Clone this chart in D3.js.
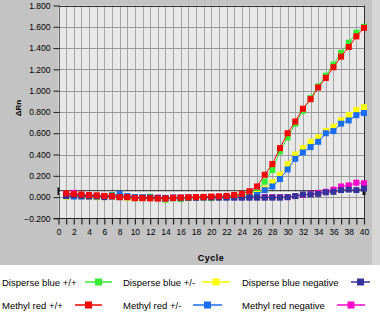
<!DOCTYPE html>
<html>
<head>
<meta charset="utf-8">
<script src="https://cdnjs.cloudflare.com/ajax/libs/d3/7.8.5/d3.min.js"></script>
<style>
body { margin: 0; background: #ffffff; }
svg  { display: block; font-family: "Liberation Sans", Arial, sans-serif; }
</style>
</head>
<body>
<svg id="chart" width="380" height="315"></svg>
<script>
// 循环数 1..40
var v_Cycles = d3.range(1, 41);

var v_DisperseBluePP  = [0.010, 0.020, 0.010, 0.010, 0.000, 0.005, 0.020, 0.005, 0.000, -0.010,
                         -0.005, 0.005, -0.010, -0.025, -0.010, -0.020, -0.010, -0.005, -0.005, -0.010,
                         0.000, 0.000, 0.010, 0.015, 0.030, 0.060, 0.145, 0.255, 0.430, 0.560,
                         0.690, 0.810, 0.930, 1.040, 1.140, 1.245, 1.355, 1.450, 1.545, 1.600];
var v_DisperseBluePM  = [0.005, 0.010, 0.005, 0.005, 0.000, 0.000, 0.005, 0.000, -0.005, -0.010,
                         -0.010, -0.005, -0.010, -0.020, -0.010, -0.010, -0.010, -0.005, -0.005, -0.005,
                         0.000, 0.000, 0.000, 0.005, 0.010, 0.030, 0.080, 0.140, 0.210, 0.310,
                         0.400, 0.460, 0.520, 0.560, 0.620, 0.660, 0.720, 0.770, 0.820, 0.845];
var v_DisperseBlueNeg = [0.010, 0.015, 0.010, 0.005, 0.005, 0.000, 0.005, 0.000, 0.000, -0.005,
                         -0.005, -0.005, -0.010, -0.010, -0.005, -0.005, -0.005, -0.005, -0.005, -0.005,
                         -0.005, -0.005, -0.005, -0.005, -0.005, -0.005, -0.005, -0.005, -0.005, 0.000,
                         0.010, 0.025, 0.025, 0.030, 0.045, 0.050, 0.065, 0.070, 0.065, 0.080];
var v_MethylRedPP     = [0.035, 0.030, 0.025, 0.020, 0.017, 0.012, 0.010, 0.000, 0.000, -0.010,
                         -0.010, -0.012, -0.013, -0.013, -0.008, -0.005, -0.002, 0.000, 0.003, 0.006,
                         0.008, 0.012, 0.020, 0.030, 0.055, 0.100, 0.210, 0.310, 0.460, 0.600,
                         0.710, 0.830, 0.920, 1.030, 1.120, 1.220, 1.320, 1.410, 1.510, 1.590];
var v_MethylRedPM     = [0.010, 0.005, 0.005, 0.015, 0.010, 0.010, 0.015, 0.030, 0.010, 0.000,
                         -0.005, -0.005, -0.010, -0.015, -0.010, -0.010, -0.005, -0.005, 0.000, 0.000,
                         0.000, 0.000, 0.000, 0.000, 0.000, 0.020, 0.065, 0.100, 0.170, 0.260,
                         0.360, 0.420, 0.470, 0.520, 0.600, 0.620, 0.690, 0.720, 0.770, 0.790];
var v_MethylRedNeg    = [0.020, 0.040, 0.020, 0.010, 0.005, 0.005, 0.005, 0.000, 0.000, -0.005,
                         -0.005, -0.005, -0.005, -0.010, -0.005, -0.005, -0.005, 0.000, 0.000, 0.000,
                         0.000, 0.000, 0.000, 0.000, 0.000, 0.000, 0.000, 0.000, 0.000, 0.000,
                         0.010, 0.020, 0.030, 0.040, 0.050, 0.070, 0.100, 0.110, 0.135, 0.130];

var v_XTicks = d3.range(0, 41, 1);
var v_XLabels = d3.range(0, 41, 2);
var v_YTicks = d3.range(-0.2, 1.81, 0.2).map(function (d) { return Math.round(d * 10) / 10; });

// 图例顺序 (两行三列)
var v_Legend = [
    { name: "Disperse blue +/+",     color: "#33ee33", data: v_DisperseBluePP  },
    { name: "Disperse blue +/-",     color: "#ffff00", data: v_DisperseBluePM  },
    { name: "Disperse blue negative", color: "#333399", data: v_DisperseBlueNeg },
    { name: "Methyl red +/+",        color: "#ff0000", data: v_MethylRedPP     },
    { name: "Methyl red +/-",        color: "#1a6cf0", data: v_MethylRedPM     },
    { name: "Methyl red negative",   color: "#ff00cc", data: v_MethylRedNeg    }
];

// 绘制顺序: 红色在最上面
var v_DrawOrder = [5, 0, 1, 4, 2, 3];


function drawChart()
{
    let v_SVG = d3.select("#chart");
    let v_X   = d3.scaleLinear().domain([0, 40]).range([58.5, 364]);
    let v_Y   = d3.scaleLinear().domain([-0.2, 1.8]).range([218.4, 5.5]);

    // 背景
    v_SVG.append("rect").attr("x", 0).attr("y", 0).attr("width", 380).attr("height", 265).attr("fill", "#c3c3c3");
    v_SVG.append("rect").attr("x", 372).attr("y", 0).attr("width", 8).attr("height", 265).attr("fill", "#d6d6d6");

    // 绘图区
    v_SVG.append("rect")
        .attr("x", v_X(0)).attr("y", v_Y(1.8))
        .attr("width", v_X(40) - v_X(0)).attr("height", v_Y(-0.2) - v_Y(1.8))
        .attr("fill", "#e8e8e8");

    let v_Grid = v_SVG.append("g");
    v_Grid.selectAll("line.vx").data(v_XTicks).enter().append("line")
        .attr("x1", d => Math.round(v_X(d)) + 0.5).attr("x2", d => Math.round(v_X(d)) + 0.5)
        .attr("y1", v_Y(1.8)).attr("y2", v_Y(-0.2))
        .attr("stroke", "#a4a4a4").attr("stroke-width", 1);
    v_Grid.selectAll("line.hy").data(v_YTicks).enter().append("line")
        .attr("x1", v_X(0)).attr("x2", v_X(40))
        .attr("y1", d => Math.round(v_Y(d)) + 0.5).attr("y2", d => Math.round(v_Y(d)) + 0.5)
        .attr("stroke", "#999999").attr("stroke-width", 1);

    // 边框
    v_SVG.append("line").attr("x1", v_X(0)).attr("x2", v_X(40) + 0.5).attr("y1", Math.round(v_Y(1.8)) + 0.5).attr("y2", Math.round(v_Y(1.8)) + 0.5).attr("stroke", "#333333");
    v_SVG.append("line").attr("x1", Math.round(v_X(40)) + 0.5).attr("x2", Math.round(v_X(40)) + 0.5).attr("y1", v_Y(1.8)).attr("y2", v_Y(-0.2)).attr("stroke", "#333333");
    v_SVG.append("line").attr("x1", Math.round(v_X(0)) + 0.5).attr("x2", Math.round(v_X(0)) + 0.5).attr("y1", v_Y(1.8)).attr("y2", v_Y(-0.2)).attr("stroke", "#666666");
    v_SVG.append("line").attr("x1", v_X(0) - 5).attr("x2", v_X(40) + 0.5).attr("y1", Math.round(v_Y(-0.2)) + 0.5).attr("y2", Math.round(v_Y(-0.2)) + 0.5).attr("stroke", "#222222");

    // 阈值线
    v_SVG.append("line").attr("x1", v_X(0)).attr("x2", v_X(40)).attr("y1", v_Y(0.04)).attr("y2", v_Y(0.04)).attr("stroke", "#ffffff").attr("stroke-width", 2.5);
    v_SVG.append("line").attr("x1", v_X(0)).attr("x2", v_X(40)).attr("y1", v_Y(0.06)).attr("y2", v_Y(0.06)).attr("stroke", "#222222").attr("stroke-width", 1);
    v_SVG.append("rect").attr("x", v_X(0) - 1).attr("y", v_Y(0.09)).attr("width", 2).attr("height", v_Y(0.02) - v_Y(0.09)).attr("fill", "#111111");
    v_SVG.append("rect").attr("x", v_X(40) - 1.5).attr("y", v_Y(0.10)).attr("width", 3).attr("height", v_Y(0.02) - v_Y(0.10)).attr("fill", "#111111");

    // Y 轴
    let v_YAxis = d3.axisLeft(v_Y).tickValues(v_YTicks).tickSize(6).tickPadding(3).tickFormat(d3.format(".3f"));
    let v_YG = v_SVG.append("g").attr("transform", "translate(" + (Math.round(v_X(0)) + 0.5) + ",0)").call(v_YAxis);
    v_YG.select(".domain").remove();
    v_YG.selectAll("text").attr("font-size", "8.5px").attr("fill", "#000000").attr("font-family", "Liberation Sans, Arial, sans-serif");
    v_YG.selectAll("line").attr("stroke", "#222222");

    // X 轴
    let v_XAxis = d3.axisBottom(v_X).tickValues(v_XTicks).tickSize(6).tickPadding(4)
        .tickFormat(d => (d % 2 == 0 ? d : ""));
    let v_XG = v_SVG.append("g").attr("transform", "translate(0," + (Math.round(v_Y(-0.2)) + 0.5) + ")").call(v_XAxis);
    v_XG.select(".domain").remove();
    v_XG.selectAll("text").attr("font-size", "8.5px").attr("fill", "#000000").attr("font-family", "Liberation Sans, Arial, sans-serif");
    v_XG.selectAll("line").attr("stroke", "#222222").attr("stroke-width", 1.2);

    // 轴标题
    v_SVG.append("text").attr("x", 211).attr("y", 261).attr("text-anchor", "middle")
        .attr("font-size", "9px").attr("font-weight", "bold").attr("letter-spacing", "0.5px").text("Cycle");
    v_SVG.append("text").attr("transform", "translate(21,108) rotate(-90)").attr("text-anchor", "middle")
        .attr("font-size", "8px").attr("font-weight", "bold").text("ΔRn");

    // 曲线
    let v_Line = d3.line().x((d, i) => v_X(v_Cycles[i])).y(d => v_Y(d));
    let v_Plot = v_SVG.append("g");
    for (let x = 0; x < v_DrawOrder.length; x++)
    {
        let v_S = v_Legend[v_DrawOrder[x]];
        let v_G = v_Plot.append("g");
        v_G.append("path").datum(v_S.data).attr("d", v_Line)
            .attr("fill", "none").attr("stroke", v_S.color).attr("stroke-width", 1);
        v_G.selectAll("rect").data(v_S.data).enter().append("rect")
            .attr("x", (d, i) => v_X(v_Cycles[i]) - 3)
            .attr("y", d => v_Y(d) - 3)
            .attr("width", 6).attr("height", 6)
            .attr("fill", v_S.color);
    }

    // 图例
    let v_LegX    = [2, 123, 242];
    let v_LegMark = [[85, 112], [202, 230], [351, 370], [75, 102], [193, 222], [337, 365]];
    let v_LegY    = [282, 305];
    let v_LegG    = v_SVG.append("g");
    v_Legend.forEach(function (s, i)
    {
        let v_Row = Math.floor(i / 3);
        let v_Col = i % 3;
        let v_Yp  = v_LegY[v_Row];
        v_LegG.append("text").attr("x", v_LegX[v_Col]).attr("y", v_Yp + 3.5)
            .attr("font-size", "9.5px").attr("fill", "#000000").text(s.name);
        let v_M = v_LegMark[i];
        v_LegG.append("line").attr("x1", v_M[0]).attr("x2", v_M[1]).attr("y1", v_Yp).attr("y2", v_Yp)
            .attr("stroke", s.color).attr("stroke-width", 1.5);
        v_LegG.append("rect").attr("x", (v_M[0] + v_M[1]) / 2 - 3.5).attr("y", v_Yp - 3.5)
            .attr("width", 7).attr("height", 7).attr("fill", s.color);
    });
}

drawChart();
</script>
</body>
</html>
